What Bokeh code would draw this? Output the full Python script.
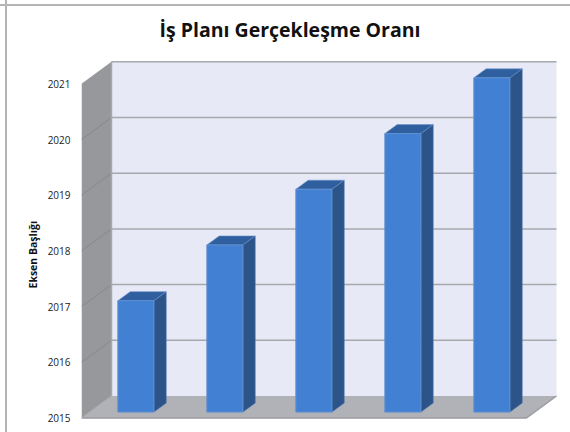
from bokeh.plotting import figure
from bokeh.models import FixedTicker, Title, Range1d
from bokeh.embed import file_html
from bokeh.resources import INLINE

# ---- data ----
categories = ["A", "B", "C", "D", "E"]
bar_values = [2017, 2018, 2019, 2020, 2021]
tick_values = [2015, 2016, 2017, 2018, 2019, 2020, 2021]
title_text = "İş Planı Gerçekleşme Oranı"
y_title = "Eksen Başlığı"
base = 2015

# ---- 3-D projection ----
W, H = 570, 432
L, R, T, B = 81, 13, 48, 8
YEAR_PX = 55.7
SLOT_PX = 89.0
DEPTH_X = 30.0 / SLOT_PX
DEPTH_Y = 22.0 / YEAR_PX
y0_px = 417.5
ystart = base - ((H - B) - y0_px) / YEAR_PX
yend = base + (y0_px - T) / YEAR_PX
xend = (W - L - R) / SLOT_PX


def pr(x, v, d):
    return x + d * DEPTH_X, v + d * DEPTH_Y


def poly(pts):
    return [p[0] for p in pts], [p[1] for p in pts]


p = figure(width=W, height=H, output_backend="svg", toolbar_location=None,
           x_range=Range1d(0, xend), y_range=Range1d(ystart, yend),
           min_border_left=L, min_border_right=R, min_border_top=T, min_border_bottom=B,
           background_fill_color="white", border_fill_color=None, outline_line_color=None)
p.styles = {
    "background-image": "linear-gradient(#B4B4B4,#B4B4B4),linear-gradient(#B4B4B4,#B4B4B4)",
    "background-size": "100% 2px,2px 100%",
    "background-position": "0 4px,5px 0",
    "background-repeat": "no-repeat",
}
p.xaxis.visible = False
p.xgrid.visible = False
p.ygrid.visible = False

n = len(categories)
top = tick_values[-1]
# back wall
xs, ys = poly([pr(0, base, 1), pr(n, base, 1), pr(n, top, 1), pr(0, top, 1)])
p.patch(xs, ys, fill_color="#E7EAF6", line_color=None)
# side wall
xs, ys = poly([pr(0, base, 0), pr(0, base, 1), pr(0, top, 1), pr(0, top, 0)])
p.patch(xs, ys, fill_color="#97989C", line_color=None)
# floor
xs, ys = poly([pr(0, base, 0), pr(n, base, 0), pr(n, base, 1), pr(0, base, 1)])
p.patch(xs, ys, fill_color="#B0B2B8", line_color=None)
# front floor edge and slanted floor edge
xs, ys = poly([pr(0, base, 0), pr(n, base, 0), pr(n, base, 1)])
p.line(xs, ys, line_color="#9A9B9E", line_width=1.5)
# gridlines
for v in tick_values[1:]:
    xs, ys = poly([pr(0, v, 1), pr(n, v, 1)])
    p.line(xs, ys, line_color="#A6A8AC", line_width=1.5)
for v in tick_values[1:-1]:
    xs, ys = poly([pr(0, v, 0), pr(0, v, 1)])
    p.line(xs, ys, line_color="#87888C", line_width=1)
# wall corner
xs, ys = poly([pr(0, base, 1), pr(0, top, 1)])
p.line(xs, ys, line_color="#A6A8AC", line_width=1.5)
xs, ys = poly([pr(0, base, 0), pr(0, base, 1)])
p.line(xs, ys, line_color="#A8A9AD", line_width=1)

# bars
D1, D2 = 0.27, 0.68
BW = 0.405
CENTER = 0.52
for i, v in enumerate(bar_values):
    a, b = i + CENTER - BW / 2, i + CENTER + BW / 2
    xs, ys = poly([pr(b, base, D1), pr(b, base, D2), pr(b, v, D2), pr(b, v, D1)])
    p.patch(xs, ys, fill_color="#2C5489", line_color="#4A74AC", line_width=0.6)
    xs, ys = poly([pr(a, v, D1), pr(b, v, D1), pr(b, v, D2), pr(a, v, D2)])
    p.patch(xs, ys, fill_color="#2F5F9F", line_color="#6C95CB", line_width=0.6)
    xs, ys = poly([pr(a, base, D1), pr(b, base, D1), pr(b, v, D1), pr(a, v, D1)])
    p.patch(xs, ys, fill_color="#4280D4", line_color="#5F8FCF", line_width=1)

# axis
ax = p.yaxis[0]
ax.ticker = FixedTicker(ticks=tick_values)
ax.axis_line_color = None
ax.major_tick_line_color = None
ax.minor_tick_line_color = None
ax.major_tick_out = 0
ax.major_tick_in = 0
ax.major_label_standoff = 11
ax.major_label_text_font = "Open Sans"
ax.major_label_text_font_size = "10px"
ax.major_label_text_color = "#222222"

# title
p.title = Title(text=title_text, align="left", offset=78, standoff=12, text_font="Open Sans",
                text_font_size="19.5px", text_font_style="bold", text_color="#111111")

# axis title as a left-side title
p.add_layout(Title(text=y_title, align="left", offset=136, standoff=10, text_font="Open Sans",
                   text_font_size="10.5px", text_font_style="bold", text_color="#111111"), "left")

open("out.html", "w").write(file_html(p, INLINE))
